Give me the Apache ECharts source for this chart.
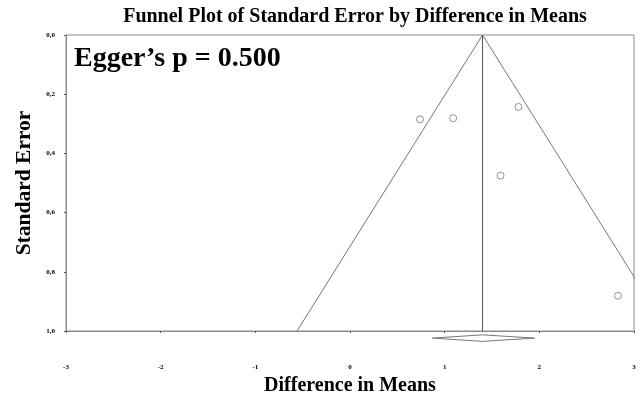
<!DOCTYPE html>
<html><head><meta charset="utf-8">
<script src="https://cdn.jsdelivr.net/npm/echarts@6/dist/echarts.min.js"></script>
<style>html,body{margin:0;padding:0;background:#fff}#c{width:641px;height:401px}</style>
</head><body><div id="c"></div>
<script>
// Study effect sizes (difference in means) and standard errors
var studyDiff = [0.74, 1.09, 1.78, 1.59, 2.83];
var studySE   = [0.285, 0.281, 0.243, 0.475, 0.881];
// Pooled estimate and its 95% CI
var pooled = 1.40;
var ciLow = 0.87, ciHigh = 1.95;
var zCrit = 1.96;
var xTicks = [-3, -2, -1, 0, 1, 2, 3];
var yTicks = [0, 0.2, 0.4, 0.6, 0.8, 1.0];
var diamondSE = 1.024, diamondHalf = 0.011;

var font = '"Liberation Serif","Times New Roman",serif';
var grey = '#8a8a8a';

var pts = studyDiff.map(function(d, i){ return [d, studySE[i]]; });
var leftLine = [[pooled, 0], [pooled - zCrit * 1, 1]];
var rightLine = [[pooled, 0], [pooled + zCrit * 1, 1]];
var centerLine = [[pooled, 0], [pooled, 1]];
var diamond = [[ciLow, diamondSE], [pooled, diamondSE - diamondHalf], [ciHigh, diamondSE], [pooled, diamondSE + diamondHalf], [ciLow, diamondSE]];

var chart = echarts.init(document.getElementById('c'));
chart.setOption({
  animation: false,
  title: [
    {text: 'Funnel Plot of Standard Error by Difference in Means', left: 350, top: 2, textAlign: 'center',
     textStyle: {fontFamily: font, fontWeight: 'bold', fontSize: 20, color: '#000'}},
    {text: 'Egger\u2019s p = 0.500', left: 69, top: 40,
     textStyle: {fontFamily: font, fontWeight: 'bold', fontSize: 28, color: '#000'}}
  ],
  grid: {left: 66, right: 7, top: 35, bottom: 70, show: true, borderColor: grey, borderWidth: 1,
         containLabel: false, outerBoundsMode: 'none'},
  xAxis: {
    type: 'value', min: xTicks[0], max: xTicks[xTicks.length-1], interval: 1,
    name: 'Difference in Means', nameLocation: 'middle', nameGap: 45,
    nameTextStyle: {fontFamily: font, fontWeight: 'bold', fontSize: 20, color: '#000'},
    axisLine: {show: true, onZero: false, lineStyle: {color: grey}},
    axisTick: {show: true, length: 2, inside: false, lineStyle: {color: '#555'}},
    axisLabel: {fontFamily: font, fontWeight: 'bold', fontSize: 7, color: '#000', margin: 33},
    splitLine: {show: false}
  },
  yAxis: {
    type: 'value', inverse: true, min: yTicks[0], max: yTicks[yTicks.length-1], interval: 0.2,
    name: 'Standard Error', nameLocation: 'middle', nameGap: 30,
    nameTextStyle: {fontFamily: font, fontWeight: 'bold', fontSize: 21.5, color: '#000'},
    axisLine: {show: true, onZero: false, lineStyle: {color: grey}},
    axisTick: {show: true, length: 2, lineStyle: {color: '#555'}},
    axisLabel: {fontFamily: font, fontWeight: 'bold', fontSize: 7, color: '#000', margin: 11,
      formatter: function(v){ return v.toFixed(1).replace('.', ','); }},
    splitLine: {show: false}
  },
  series: [
    {type: 'line', data: leftLine, symbol: 'none', lineStyle: {color: '#777', width: 1}, clip: true},
    {type: 'line', data: rightLine, symbol: 'none', lineStyle: {color: '#777', width: 1}, clip: true},
    {type: 'line', data: centerLine, symbol: 'none', lineStyle: {color: '#555', width: 1}, clip: true},
    {type: 'line', data: diamond, symbol: 'none', lineStyle: {color: '#777', width: 1}, clip: false, z: 5},
    {type: 'scatter', data: pts, symbol: 'circle', symbolSize: 7,
     itemStyle: {color: '#fff', borderColor: '#777', borderWidth: 1}}
  ]
});
</script></body></html>
